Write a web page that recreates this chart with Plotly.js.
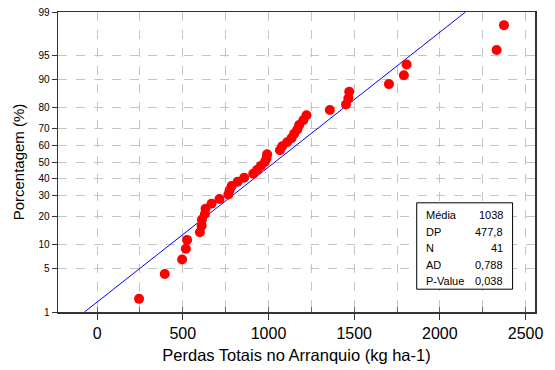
<!DOCTYPE html>
<html><head><meta charset="utf-8">
<script src="https://cdn.plot.ly/plotly-3.0.1.min.js"></script>
<style>html,body{margin:0;padding:0;background:#fff}</style>
</head><body><div id="chart" style="width:555px;height:370px"></div>
<script>
// Observed data (sorted), kg ha-1
const perdas = [245,395,496,518,525,600,610,612,629,633,668,714,766,773,785,820,858,911,934,956,979,989,992,1067,1080,1109,1135,1150,1168,1179,1203,1222,1358,1452,1466,1471,1703,1790,1806,2331,2374];
// Plotting positions (%)
const porcentagem = [1.69,4.11,6.52,8.94,11.35,13.77,16.18,18.60,21.01,23.43,25.85,28.26,30.68,33.09,35.51,37.92,40.34,42.75,45.17,47.58,50.00,52.42,54.83,57.25,59.66,62.08,64.49,66.91,69.32,71.74,74.15,76.57,78.99,81.40,83.82,86.23,88.65,91.06,93.48,95.89,98.31];
const yTicks = [1,5,10,20,30,40,50,60,70,80,90,95,99];
const xTicks = [0,500,1000,1500,2000,2500];
const fitMean = 1038;
const fitSD = 477.8;
const statLabels = ['Média','DP','N','AD','P-Value'];
const statValues = ['1038','477,8','41','0,788','0,038'];

// inverse standard normal CDF (Acklam)
function qnorm(p){
  const a=[-3.969683028665376e+01,2.209460984245205e+02,-2.759285104469687e+02,1.383577518672690e+02,-3.066479806614716e+01,2.506628277459239e+00];
  const b=[-5.447609879822406e+01,1.615858368580409e+02,-1.556989798598866e+02,6.680131188771972e+01,-1.328068155288572e+01];
  const c=[-7.784894002430293e-03,-3.223964580411365e-01,-2.400758277161838e+00,-2.549732539343734e+00,4.374664141464968e+00,2.938163982698783e+00];
  const d=[7.784695709041462e-03,3.224671290700398e-01,2.445134137142996e+00,3.754408661907416e+00];
  const pl=0.02425, ph=1-pl; let q,r;
  if(p<pl){q=Math.sqrt(-2*Math.log(p));return (((((c[0]*q+c[1])*q+c[2])*q+c[3])*q+c[4])*q+c[5])/((((d[0]*q+d[1])*q+d[2])*q+d[3])*q+1);}
  if(p<=ph){q=p-0.5;r=q*q;return (((((a[0]*r+a[1])*r+a[2])*r+a[3])*r+a[4])*r+a[5])*q/(((((b[0]*r+b[1])*r+b[2])*r+b[3])*r+b[4])*r+1);}
  q=Math.sqrt(-2*Math.log(1-p));return -(((((c[0]*q+c[1])*q+c[2])*q+c[3])*q+c[4])*q+c[5])/((((d[0]*q+d[1])*q+d[2])*q+d[3])*q+1);
}
const z = v => qnorm(v/100);
const zLo = z(yTicks[0]), zHi = z(yTicks[yTicks.length-1]);

const font = 'Liberation Sans, Arial, sans-serif';
const traces = [
  {x:[fitMean+fitSD*zLo, fitMean+fitSD*zHi], y:[zLo,zHi], mode:'lines',
   line:{color:'#0000ff',width:1}, hoverinfo:'skip', showlegend:false},
  {x:perdas, y:porcentagem.map(z), mode:'markers',
   marker:{color:'#ff0000',size:10}, showlegend:false}
];

// stats box geometry in paper coords
const bx0=0.752, bx1=0.953, by0=0.076, by1=0.364;
const rowTop=0.323, rowStep=0.055;
const annotations=[];
statLabels.forEach((s,i)=>{
  annotations.push({xref:'paper',yref:'paper',x:0.768,y:rowTop-i*rowStep,text:s,showarrow:false,
    xanchor:'left',yanchor:'middle',font:{family:font,size:11,color:'#000'}});
  annotations.push({xref:'paper',yref:'paper',x:0.9375,y:rowTop-i*rowStep,text:statValues[i],showarrow:false,
    xanchor:'right',yanchor:'middle',font:{family:font,size:11,color:'#000'}});
});

const grid = {gridcolor:'#c4c4c4', griddash:'dash', gridwidth:1};
const layout = {
  width:555, height:370,
  margin:{l:58,r:20,t:12,b:58},
  paper_bgcolor:'#fff', plot_bgcolor:'#fff',
  font:{family:font,color:'#000'},
  xaxis:Object.assign({
    range:[-228,2555], tickvals:xTicks, ticks:'outside', ticklen:6, tickcolor:'#333',
    tickfont:{size:16,family:font}, showgrid:true, zeroline:false,
    showline:true, mirror:true, linecolor:'#333', linewidth:1.5,
    minor:{dtick:250, tick0:0, showgrid:true, gridcolor:'#c4c4c4', griddash:'dash', ticks:'inside', ticklen:5, tickcolor:'#666'},
    title:{text:'Perdas Totais no Arranquio (kg ha-1)', font:{size:16.5,family:font}, standoff:8}
  }, grid),
  yaxis:Object.assign({
    range:[zLo,zHi], tickvals:yTicks.map(z), ticktext:yTicks.map(String),
    ticks:'outside', ticklen:5, tickcolor:'#333', tickfont:{size:10,family:font},
    showgrid:true, zeroline:false, showline:true, mirror:true, linecolor:'#333', linewidth:1.5,
    title:{text:'Porcentagem (%)', font:{size:15,family:font}, standoff:10}
  }, grid),
  shapes:[{type:'rect',xref:'paper',yref:'paper',x0:bx0,x1:bx1,y0:by0,y1:by1,
    line:{color:'#000',width:1},fillcolor:'#fff',layer:'above'}],
  annotations:annotations
};
Plotly.newPlot('chart', traces, layout, {displayModeBar:false, staticPlot:true});
</script></body></html>
